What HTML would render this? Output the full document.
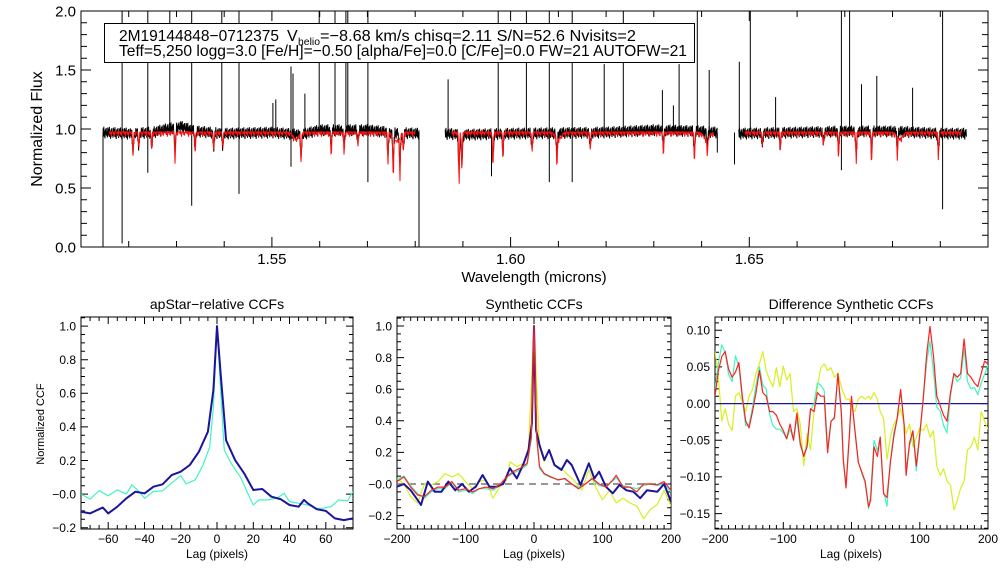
<!DOCTYPE html>
<html><head><meta charset="utf-8"><title>APOGEE spectrum and CCFs</title>
<style>
html,body{margin:0;padding:0;background:#fff;}
svg{display:block;font-family:"Liberation Sans",Arial,sans-serif;}
</style></head>
<body>
<svg id="chart" width="1008" height="576" viewBox="0 0 1008 576" xmlns="http://www.w3.org/2000/svg">
<rect width="1008" height="576" fill="#fff"/>
<g id="top"></g>
<g id="p1"></g>
<g id="p2"></g>
<g id="p3"></g>
<g>
<rect x="104.5" y="23.5" width="590" height="39" fill="#fff" stroke="#000" stroke-width="1"/>
<text y="41" font-size="16"><tspan x="119" textLength="160" lengthAdjust="spacingAndGlyphs">2M19144848−0712375</tspan><tspan x="287">V</tspan><tspan x="298" font-size="10" dy="4" textLength="22" lengthAdjust="spacingAndGlyphs">helio</tspan><tspan x="320" dy="-4" textLength="316" lengthAdjust="spacingAndGlyphs">=−8.68 km/s   chisq=2.11   S/N=52.6   Nvisits=2</tspan></text>
<text x="119" y="56" font-size="16" textLength="568" lengthAdjust="spacingAndGlyphs">Teff=5,250 logg=3.0 [Fe/H]=−0.50 [alpha/Fe]=0.0 [C/Fe]=0.0 FW=21 AUTOFW=21</text>
</g>
</svg>
<script>
// ---------- DATA ----------
const chip1Wl=[1.5146,1.520,1.525,1.528,1.531,1.534,1.540,1.550,1.556,1.560,1.570,1.575,1.5808];
const chip1Fx=[0.97,0.96,0.97,1.00,1.02,0.98,0.96,0.97,0.95,0.99,0.99,0.97,0.96];
const chip2Wl=[1.5863,1.590,1.600,1.620,1.630,1.640,1.6433];
const chip2Fx=[0.96,0.95,0.96,0.97,0.99,0.98,0.97];
const chip3Wl=[1.6478,1.660,1.670,1.680,1.690,1.6955];
const chip3Fx=[0.96,0.97,0.98,0.98,0.96,0.96];
const spikeWl=[1.5186,1.5240,1.5286,1.5332,1.5395,1.5431,1.5502,1.5508,1.5540,1.5544,1.5569,1.5599,1.5632,1.5655,1.5659,1.5701,1.5869,1.5974,1.6033,1.6081,1.6129,1.6196,1.6236,1.6318,1.6341,1.6353,1.6391,1.6416,1.6479,1.6502,1.6555,1.6693,1.6710,1.6735,1.6767,1.6842,1.6905];
const spikeTop=[2.1,2.1,2.1,2.1,2.1,2.1,1.22,1.25,1.53,1.47,1.30,2.1,2.1,2.1,2.1,2.1,1.42,2.1,2.1,2.1,2.1,1.55,2.1,1.33,1.20,1.55,2.1,1.50,1.57,2.1,1.27,2.1,2.1,1.38,1.45,1.35,2.1];
const dropWl=[1.5146,1.5186,1.5240,1.5332,1.5431,1.5540,1.5701,1.5808,1.5960,1.6081,1.6129,1.6433,1.6469,1.6693,1.6905];
const dropVal=[-0.05,0.03,0.63,0.35,0.45,0.68,0.55,0.0,0.6,0.55,0.55,0.8,0.7,0.65,0.32];
const lineWl=[1.5209,1.5221,1.5248,1.5297,1.5339,1.5378,1.5397,1.5561,1.5624,1.5651,1.5680,1.5743,1.5754,1.5768,1.5775,1.5892,1.5898,1.5963,1.5984,1.6045,1.6097,1.6167,1.6320,1.6385,1.6412,1.6527,1.6565,1.6655,1.6687,1.6724,1.6756,1.6810,1.6896];
const lineFx=[0.77,0.83,0.82,0.70,0.80,0.80,0.83,0.72,0.77,0.78,0.85,0.70,0.62,0.58,0.80,0.52,0.62,0.66,0.76,0.80,0.72,0.82,0.78,0.72,0.82,0.85,0.82,0.86,0.76,0.70,0.70,0.80,0.75];
const broadWl=[1.5550,1.6100,1.5760,1.6815,1.6410];
const broadFx=[0.92,0.92,0.90,0.92,0.92];

const p1BlueLag=[-75,-70,-65,-63,-60,-55,-50,-45,-40,-35,-30,-25,-20,-15,-10,-5,-2,0,2,5,10,15,20,25,30,35,40,45,48,50,55,60,65,70,75];
const p1BlueVal=[-0.105,-0.115,-0.09,-0.08,-0.115,-0.075,-0.026,0.014,0.004,0.044,0.058,0.113,0.133,0.173,0.252,0.371,0.62,1.0,0.72,0.32,0.202,0.123,0.024,0.03,-0.016,-0.03,-0.065,-0.075,-0.035,-0.055,-0.09,-0.1,-0.145,-0.155,-0.145];
const p1CyanLag=[-75,-70,-65,-60,-55,-50,-47,-43,-40,-35,-30,-25,-20,-17,-12,-8,-4,-2,0,2,4,8,13,18,20,23,28,33,37,40,45,50,55,58,63,67,72,75];
const p1CyanVal=[0.0,-0.03,0.02,-0.01,0.025,0.0,0.055,0.015,-0.025,0.015,0.02,0.065,0.11,0.06,0.085,0.165,0.28,0.52,1.0,0.62,0.26,0.18,0.1,-0.02,-0.065,-0.035,-0.035,-0.025,0.005,-0.045,-0.055,-0.065,-0.085,-0.085,-0.075,-0.035,-0.04,0.015];

const p2BlueLag=[-200,-190,-180,-170,-165,-155,-145,-135,-125,-115,-105,-95,-85,-75,-65,-55,-45,-35,-25,-15,-8,-3,0,3,8,15,22,30,40,48,55,68,80,88,95,105,115,125,135,145,155,165,180,190,200];
const p2BlueVal=[-0.017,0.0,-0.04,-0.101,-0.133,0.015,-0.049,-0.049,0.015,-0.04,0.0,-0.049,-0.017,0.057,-0.017,-0.017,0.0,0.099,0.035,0.131,0.215,0.384,1.0,0.342,0.247,0.152,0.215,0.12,0.089,0.152,0.12,-0.006,0.131,0.035,0.078,-0.017,-0.059,-0.006,-0.04,-0.049,-0.09,-0.04,-0.049,0.0,-0.112];
const p2Lag=[-200,-190,-180,-170,-160,-150,-140,-130,-120,-110,-100,-90,-80,-70,-60,-50,-40,-30,-20,-10,-4,0,4,8,15,25,35,45,55,65,75,85,95,105,115,120,130,140,150,160,170,180,190,200];
const p2RedVal=[0.015,0.045,-0.02,-0.07,-0.08,-0.04,-0.02,-0.02,0.015,-0.04,-0.03,-0.05,-0.03,-0.02,-0.03,-0.005,0.045,0.08,0.1,0.13,0.3,1.0,0.3,0.11,0.065,0.045,0.025,0.035,0.0,-0.03,0.0,0.035,0.0,-0.02,0.025,0.055,-0.02,-0.02,-0.05,0.0,0.0,-0.005,0.015,-0.04];
const p2CyanVal=[0.03,0.05,-0.01,-0.06,-0.09,-0.05,-0.03,-0.03,0.01,-0.05,-0.04,-0.06,-0.03,-0.03,-0.04,-0.01,0.04,0.07,0.09,0.12,0.28,0.98,0.28,0.10,0.06,0.04,0.03,0.03,0.0,-0.02,0.0,0.03,-0.01,-0.02,0.02,0.04,-0.01,-0.02,-0.03,-0.01,0.0,-0.01,0.0,-0.05];
const p2YellowLag=[-200,-190,-180,-170,-160,-150,-140,-130,-120,-110,-100,-90,-80,-70,-60,-50,-40,-35,-25,-15,-8,0,8,15,22,30,40,50,60,70,80,90,100,110,120,130,140,150,160,170,180,190,200];
const p2YellowVal=[0.035,0.0,-0.08,-0.12,0.0,-0.006,0.015,0.065,0.045,0.065,0.015,-0.03,0.015,0.025,-0.09,-0.017,0.025,0.14,0.11,0.13,0.23,1.0,0.23,0.14,0.22,0.12,0.1,0.055,0.015,-0.04,0.09,-0.02,-0.1,-0.04,-0.12,-0.09,-0.12,-0.14,-0.22,-0.16,-0.13,-0.04,-0.14];

const p3Lag=[-200,-195,-190,-185,-180,-175,-170,-165,-160,-155,-150,-145,-140,-135,-130,-125,-120,-115,-110,-105,-100,-95,-90,-85,-80,-75,-70,-65,-60,-55,-50,-45,-40,-35,-30,-25,-20,-15,-12,-8,-3,0,5,10,15,20,25,28,33,38,42,47,52,57,62,67,72,77,80,85,90,95,100,105,110,115,120,125,130,135,140,145,150,155,160,165,170,175,180,185,190,195,200];
const p3RedVal=[0.010,0.045,0.064,0.071,0.047,0.036,0.043,0.056,0.010,-0.024,-0.033,-0.011,0.015,0.045,0.015,0.010,-0.011,-0.011,-0.016,-0.028,-0.037,-0.048,-0.028,-0.050,-0.013,-0.054,-0.072,-0.059,-0.007,-0.011,0.015,0.010,0.010,-0.067,-0.024,-0.020,0.041,-0.011,-0.076,-0.115,-0.041,0.010,-0.037,-0.080,-0.093,-0.106,-0.141,-0.132,-0.059,-0.072,-0.046,-0.123,-0.128,-0.080,-0.045,-0.020,0.019,-0.028,-0.098,-0.054,-0.037,-0.085,-0.041,0.006,0.066,0.105,0.066,0.010,-0.003,-0.016,-0.024,0.015,0.041,0.036,0.041,0.088,0.041,0.036,0.028,0.023,0.041,0.058,0.054];
const p3CyanVal=[0.020,0.055,0.080,0.070,0.040,0.030,0.065,0.050,0.005,-0.030,-0.028,-0.005,0.025,0.050,0.025,0.020,-0.015,-0.030,-0.035,-0.035,-0.040,-0.048,-0.035,-0.050,-0.020,-0.058,-0.070,-0.055,-0.010,0.000,0.028,0.025,0.018,-0.060,-0.025,-0.018,0.040,-0.015,-0.080,-0.108,-0.040,0.008,-0.035,-0.080,-0.095,-0.108,-0.143,-0.125,-0.050,-0.065,-0.045,-0.120,-0.140,-0.078,-0.040,-0.020,0.018,-0.030,-0.090,-0.058,-0.040,-0.092,-0.045,0.005,0.055,0.085,0.045,-0.005,-0.010,-0.030,-0.040,0.010,0.040,0.030,0.035,0.075,0.030,0.020,0.022,0.012,0.028,0.040,0.052];
const p3YellowVal=[0.071,0.036,-0.024,-0.007,-0.028,-0.037,0.010,0.015,0.002,-0.011,0.010,0.019,0.041,0.054,0.071,0.045,0.032,0.023,0.049,0.023,0.051,0.032,0.041,-0.011,-0.007,-0.028,-0.085,-0.041,-0.063,-0.011,0.023,0.049,0.054,0.045,0.049,0.036,0.041,0.023,0.015,0.006,0.006,-0.007,-0.011,0.006,0.010,0.006,0.010,0.006,0.015,0.006,-0.011,-0.020,-0.076,-0.046,-0.028,-0.020,-0.007,-0.028,-0.041,-0.028,-0.059,-0.046,-0.033,-0.037,-0.028,-0.046,-0.037,-0.085,-0.098,-0.089,-0.106,-0.111,-0.145,-0.132,-0.115,-0.106,-0.063,-0.059,-0.046,-0.063,-0.011,-0.024,-0.035];

// ---------- DRAWING ----------
const NS='http://www.w3.org/2000/svg';
function mk(tag,attrs,parent){const e=document.createElementNS(NS,tag);for(const k in attrs)e.setAttribute(k,attrs[k]);if(parent)parent.appendChild(e);return e;}
function scale(d0,d1,r0,r1){return v=>r0+(v-d0)*(r1-r0)/(d1-d0);}

function frame(g,box,xd,yd,xMaj,xMin,yMaj,yMin,xFmt,yFmt,fs,majL,minL,skipEdgeX){
  const sx=scale(xd[0],xd[1],box.x0,box.x1), sy=scale(yd[0],yd[1],box.y1,box.y0);
  const r=mk('rect',{x:box.x0,y:box.y0,width:box.x1-box.x0,height:box.y1-box.y0,fill:'none',stroke:'#000','stroke-width':1},g);
  
  
  let d='';
  const eps=1e-9;
  for(let v=Math.ceil((xd[0]-eps)/xMin)*xMin; v<=xd[1]+eps; v+=xMin){
    const isMaj=Math.abs(v/xMaj-Math.round(v/xMaj))<1e-6, L=isMaj?majL:minL, x=sx(v).toFixed(1);
    d+=`M${x} ${box.y1}v${-L}M${x} ${box.y0}v${L}`;
    const edge=Math.abs(v-xd[0])<1e-6||Math.abs(v-xd[1])<1e-6;
    if(isMaj&&!(skipEdgeX&&edge)){const t=mk('text',{x:x,y:box.y1+fs+2,'font-size':fs,'text-anchor':'middle'},g);t.textContent=xFmt(v);
      
      }
  }
  for(let v=Math.ceil((yd[0]-eps)/yMin)*yMin; v<=yd[1]+eps; v+=yMin){
    const isMaj=Math.abs(v/yMaj-Math.round(v/yMaj))<1e-6, L=isMaj?majL:minL, y=sy(v).toFixed(1);
    d+=`M${box.x0} ${y}h${L}M${box.x1} ${y}h${-L}`;
    if(isMaj){const t=mk('text',{x:box.x0-5,y:+y+fs*0.36,'font-size':fs,'text-anchor':'end'},g);t.textContent=yFmt(v);
      
      }
  }
  const p=mk('path',{d:d,stroke:'#000','stroke-width':1,fill:'none'},g);
  
  
  return {sx,sy};
}
function fmtNeg(s){return s.replace('-','−');}
function line(g,sx,sy,xs,ys,col,w,name,box){
  let d='';xs.forEach((x,i)=>{d+=(i?'L':'M')+sx(x).toFixed(1)+' '+sy(ys[i]).toFixed(1);});
  const p=mk('path',{d:d,stroke:col,'stroke-width':w,fill:'none','stroke-linejoin':'round','clip-path':box},g);
  
  
  return p;
}
function txt(g,x,y,s,fs,name,rot){
  const t=mk('text',{x:x,y:y,'font-size':fs,'text-anchor':'middle'},g);
  if(rot)t.setAttribute('transform',`rotate(-90 ${x} ${y})`);
  t.textContent=s;
  
  
}
const svg=document.getElementById('chart');
const defs=mk('defs',{},svg);
function clip(id,b){const c=mk('clipPath',{id:id},defs);mk('rect',{x:b.x0,y:b.y0,width:b.x1-b.x0,height:b.y1-b.y0},c);return `url(#${id})`;}

// ---- top spectrum ----
(function(){
  const g=document.getElementById('top');
  const box={x0:81,x1:988,y0:11,y1:247};
  const cp=clip('ctop',box);
  const {sx,sy}=frame(g,box,[1.51,1.70],[0,2.0],0.05,0.01,0.5,0.1,v=>v.toFixed(2),v=>v.toFixed(1),15,10,6,true);
  txt(g,534,282,'Wavelength (microns)',15,'x-axis-title');
  txt(g,42,129,'Normalized Flux',16,'y-axis-title',true);
  const interp=(xs,ys,x)=>{for(let i=0;i<xs.length-1;i++){if(x<=xs[i+1]){const t=(x-xs[i])/(xs[i+1]-xs[i]);return ys[i]+t*(ys[i+1]-ys[i]);}}return ys[ys.length-1];};
  const pat=[0.035,-0.03,0.05,-0.035,0.015,-0.05,0.03,-0.015,0.04,-0.025,0.008,-0.04,0.045,-0.02];
  const chips=[[chip1Wl,chip1Fx],[chip2Wl,chip2Fx],[chip3Wl,chip3Fx]];
  chips.forEach(([wl,fx],ci)=>{
    let d='';let k=0;
    for(let x=sx(wl[0]);x<=sx(wl[wl.length-1]);x+=0.4){
      const w=wl[0]+(x-sx(wl[0]))/(sx(1.6)-sx(1.55))*0.05;
      let f=interp(wl,fx,w)+pat[k%pat.length];
      lineWl.forEach((lw,j)=>{const dx=(sx(lw)-x);f-=(1-lineFx[j])*0.6*Math.exp(-dx*dx/0.8);});
      d+=(k?'L':'M')+x.toFixed(1)+' '+sy(f).toFixed(1);k++;
    }
    const p=mk('path',{d:d,stroke:'#000','stroke-width':1,fill:'none','clip-path':cp},g);
    
    
  });
  let ds='';
  spikeWl.forEach((w,i)=>{const x=sx(w).toFixed(1);ds+=`M${x} ${sy(0.98).toFixed(1)}V${sy(spikeTop[i]).toFixed(1)}`;});
  dropWl.forEach((w,i)=>{const x=sx(w).toFixed(1);ds+=`M${x} ${sy(0.97).toFixed(1)}V${sy(dropVal[i]).toFixed(1)}`;});
  const sp=mk('path',{d:ds,stroke:'#000','stroke-width':1,fill:'none','clip-path':cp},g);
  
  
  const mpat=[0,0,0.02,0,0,0.04,0,0,0,0.015,0,0.03,0,0];
  chips.forEach(([wl,fx],ci)=>{
    let d='';let k=0;
    const a=sx(wl[0])+6,b=sx(wl[wl.length-1])-4;
    for(let x=a;x<=b;x+=0.5){
      let f=0.975-mpat[k%mpat.length];
      lineWl.forEach((lw,j)=>{const dx=(sx(lw)-x);f-=(0.975-lineFx[j])*Math.exp(-dx*dx/0.3);});
      broadWl.forEach((bw,j)=>{const dx=(sx(bw)-x);f-=(0.975-broadFx[j])*Math.exp(-dx*dx/16);});
      d+=(k?'L':'M')+x.toFixed(1)+' '+sy(f).toFixed(1);k++;
    }
    const p=mk('path',{d:d,stroke:'#ff1010','stroke-width':1,fill:'none'},g);
    
    
  });
})();

// ---- panel 1 ----
(function(){
  const g=document.getElementById('p1');
  const box={x0:81,x1:353,y0:317,y1:529};
  const cp=clip('c1',box);
  const {sx,sy}=frame(g,box,[-75,75],[-0.208,1.054],20,5,0.2,0.05,v=>fmtNeg(Math.round(v).toString()),v=>fmtNeg(v.toFixed(1)),12,7,4);
  txt(g,217,309,'apStar−relative CCFs',14,'panel-title');
  txt(g,217,558,'Lag (pixels)',12,'x-axis-title');
  txt(g,44,424,'Normalized CCF',11,'y-axis-title',true);
  line(g,sx,sy,p1CyanLag,p1CyanVal,'#40f5c0',1.2,'cyan-ccf',cp);
  line(g,sx,sy,p1BlueLag,p1BlueVal,'#1c149c',2,'blue-ccf',cp);
})();

// ---- panel 2 ----
(function(){
  const g=document.getElementById('p2');
  const box={x0:397,x1:671,y0:317,y1:529};
  const cp=clip('c2',box);
  const {sx,sy}=frame(g,box,[-200,200],[-0.285,1.057],100,10,0.2,0.05,v=>fmtNeg(Math.round(v).toString()),v=>fmtNeg(v.toFixed(1)),12,7,4);
  txt(g,534,309,'Synthetic CCFs',14,'panel-title');
  txt(g,534,558,'Lag (pixels)',12,'x-axis-title');
  const z=mk('path',{d:`M${box.x0} ${sy(0).toFixed(1)}H${box.x1}`,stroke:'#777','stroke-width':1.5,'stroke-dasharray':'7,5'},g);
  
  
  line(g,sx,sy,p2YellowLag,p2YellowVal,'#d8f020',1.2,'yellow-ccf',cp);
  line(g,sx,sy,p2Lag,p2CyanVal,'#40f5c0',1.2,'cyan-ccf',cp);
  line(g,sx,sy,p2BlueLag,p2BlueVal,'#1c149c',2,'blue-ccf',cp);
  line(g,sx,sy,p2Lag,p2RedVal,'#ff2020',1.2,'red-ccf',cp);
})();

// ---- panel 3 ----
(function(){
  const g=document.getElementById('p3');
  const box={x0:715,x1:988,y0:317,y1:529};
  const cp=clip('c3',box);
  const {sx,sy}=frame(g,box,[-200,200],[-0.171,0.118],100,10,0.05,0.01,v=>fmtNeg(Math.round(v).toString()),v=>fmtNeg(v.toFixed(2)),12,7,4);
  txt(g,851,309,'Difference Synthetic CCFs',14,'panel-title');
  txt(g,851,558,'Lag (pixels)',12,'x-axis-title');
  line(g,sx,sy,p3Lag,p3YellowVal,'#d8f020',1.2,'yellow-diff',cp);
  const z=mk('path',{d:`M${box.x0} ${sy(0).toFixed(1)}H${box.x1}`,stroke:'#1c149c','stroke-width':1.2},g);
  
  
  line(g,sx,sy,p3Lag,p3CyanVal,'#40f5c0',1.2,'cyan-diff',cp);
  line(g,sx,sy,p3Lag,p3RedVal,'#ff2020',1.2,'red-diff',cp);
})();
</script>
</body></html>
